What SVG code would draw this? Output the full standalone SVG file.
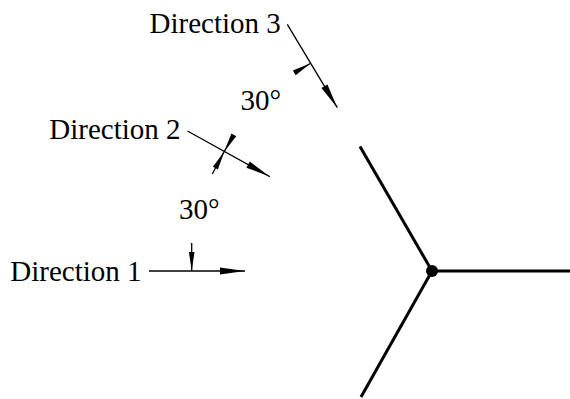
<svg xmlns="http://www.w3.org/2000/svg" width="570" height="399" viewBox="0 0 570 399">
<style>
.lbl{font-family:"Liberation Serif","Times New Roman",serif;font-size:29px;fill:#000}
.thin{stroke:#000;stroke-width:1.3;fill:none}
.thick{stroke:#000;stroke-width:3;fill:none;stroke-linecap:butt}
</style>
<defs>
<marker id="ah" markerUnits="userSpaceOnUse" orient="auto" markerWidth="27" markerHeight="10" viewBox="-26 -5 27 10" refX="0" refY="0" overflow="visible"><path d="M0,0 L-25,-3.5 L-25,3.5 Z" fill="#000"/></marker>
<marker id="tk" markerUnits="userSpaceOnUse" orient="auto" markerWidth="21" markerHeight="8" viewBox="-20 -4 21 8" refX="0" refY="0" overflow="visible"><path d="M0,0 L-19,-2.8 L-19,2.8 Z" fill="#000"/></marker>
</defs>
<g id="junction">
<line class="thick" x1="432" y1="271" x2="570" y2="271"/>
<line class="thick" x1="432" y1="271" x2="360" y2="146.5"/>
<line class="thick" x1="432" y1="271" x2="361" y2="397"/>
<circle cx="432" cy="271" r="6" fill="#000"/>
</g>
<g id="direction1">
<text class="lbl" x="10.3" y="281">Direction 1</text>
</g>
<g id="direction2">
<text class="lbl" x="49.3" y="139.3">Direction 2</text>
</g>
<g id="direction3">
<text class="lbl" x="149.5" y="33.3">Direction 3</text>
</g>
<g id="angle1">
<text class="lbl" x="179" y="219">30°</text>
</g>
<g id="angle2">
<text class="lbl" x="240.5" y="109.5">30°</text>
</g>
<g id="connectors">
<line class="thin" x1="149" y1="271" x2="245" y2="271" marker-end="url(#ah)"/>
<line class="thin" x1="187.5" y1="131" x2="270" y2="176.7" marker-end="url(#ah)"/>
<line class="thin" x1="287.3" y1="24.3" x2="337.3" y2="107.7" marker-end="url(#ah)"/>
<line class="thin" x1="191.7" y1="243" x2="191.7" y2="271" marker-end="url(#tk)"/>
<line class="thin" x1="212.3" y1="174" x2="224.3" y2="151.4" marker-end="url(#tk)"/>
<line class="thin" x1="233.8" y1="135" x2="224.3" y2="151.4" marker-end="url(#tk)"/>
<line class="thin" x1="294.4" y1="72.8" x2="310.7" y2="63.3" marker-end="url(#tk)"/>
</g>
</svg>
